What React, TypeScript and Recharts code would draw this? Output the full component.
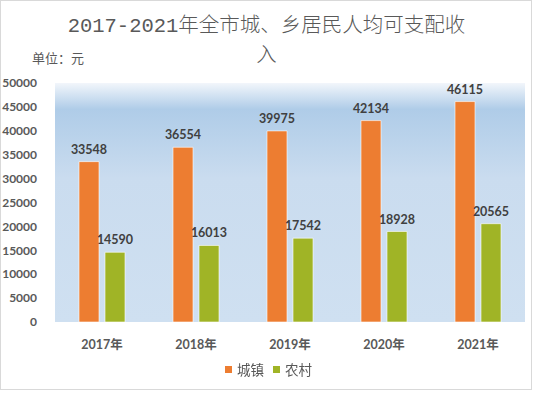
import React from 'react';
import { BarChart, Bar, XAxis, YAxis, CartesianGrid, Legend, LabelList } from 'recharts';

const years = ['2017年', '2018年', '2019年', '2020年', '2021年'];
const urban = [33548, 36554, 39975, 42134, 46115];
const rural = [14590, 16013, 17542, 18928, 20565];
const yTicks = [0, 5000, 10000, 15000, 20000, 25000, 30000, 35000, 40000, 45000, 50000];
const seriesNames = ['城镇', '农村'];
const seriesColors = ['#ed7d31', '#a0b426'];
const titleLine1 = '2017-2021年全市城、乡居民人均可支配收';
const titleLine2 = '入';
const unitText = '单位：元';

const data = years.map((y, i) => ({ year: y, urban: urban[i], rural: rural[i] }));

const latin = 'Lato, "Noto Sans CJK SC", sans-serif';
const gray = '#595959';

const LegendContent = () => (
  <div style={{ display: 'flex', justifyContent: 'center', alignItems: 'center', fontFamily: '"Noto Sans CJK SC", sans-serif', fontSize: 13.5, color: gray, lineHeight: '20px' }}>
    {seriesNames.map((n, i) => (
      <span key={n} style={{ display: 'inline-flex', alignItems: 'center', marginRight: i === 0 ? 9 : 0 }}>
        <span style={{ display: 'inline-block', width: 7, height: 7, background: seriesColors[i], marginRight: 5 }} />
        <span>{n}</span>
      </span>
    ))}
  </div>
);

export default function App() {
  return (
    <div style={{ position: 'fixed', left: 0, top: 0, width: 533, height: 393, background: '#fff' }}>
      <div style={{ position: 'absolute', left: 0, top: 0, width: 532, height: 390, boxSizing: 'border-box', border: '1px solid #d9d9d9' }} />
      <div style={{ position: 'absolute', left: 0, top: 12, width: 533, textAlign: 'center', fontFamily: '"Liberation Mono", "Noto Sans CJK SC", monospace', fontSize: 20.5, fontWeight: 300, color: gray, lineHeight: '30px', whiteSpace: 'nowrap' }}>
        <div>{titleLine1}</div>
        <div>{titleLine2}</div>
      </div>
      <div style={{ position: 'absolute', left: 32, top: 48, fontFamily: '"Noto Sans CJK SC", sans-serif', fontSize: 13, color: gray, whiteSpace: 'nowrap' }}>
        {unitText}
      </div>
      <BarChart width={533} height={393} data={data} margin={{ top: 83, right: 8, bottom: 0, left: 0 }} barGap={6} barSize={20} style={{ position: 'absolute', left: 0, top: 0 }}>
        <defs>
          <linearGradient id="bg" x1="0" y1="0" x2="0" y2="1">
            <stop offset="0" stopColor="#f2f6fb" />
            <stop offset="0.11" stopColor="#afcce8" />
            <stop offset="0.4" stopColor="#cadcef" />
            <stop offset="1" stopColor="#cfe0f1" />
          </linearGradient>
        </defs>
        <CartesianGrid fill="url(#bg)" stroke="none" horizontal={false} vertical={false} />
        <XAxis dataKey="year" axisLine={false} tickLine={false} tickMargin={12} height={71} tick={{ fill: gray, fontSize: 12.5, fontWeight: 700, fontFamily: latin }} />
        <YAxis width={55} domain={[0, 50000]} ticks={yTicks} interval={0} axisLine={false} tickLine={false} tickMargin={12} tick={{ fill: gray, fontSize: 12, fontWeight: 700, fontFamily: latin }} />
        <Legend layout="horizontal" verticalAlign="middle" align="center" content={<LegendContent />}
          wrapperStyle={{ top: 359, left: 2, width: 533 }} />
        <Bar dataKey="urban" name={seriesNames[0]} fill={seriesColors[0]} stroke="#ffffff" strokeOpacity={0.6} isAnimationActive={false}>
          <LabelList dataKey="urban" position="top" offset={8} fill="#404040" fontSize={12.5} fontWeight={700} fontFamily={latin} />
        </Bar>
        <Bar dataKey="rural" name={seriesNames[1]} fill={seriesColors[1]} stroke="#ffffff" strokeOpacity={0.6} isAnimationActive={false}>
          <LabelList dataKey="rural" position="top" offset={8} fill="#404040" fontSize={12.5} fontWeight={700} fontFamily={latin} />
        </Bar>
      </BarChart>
    </div>
  );
}
